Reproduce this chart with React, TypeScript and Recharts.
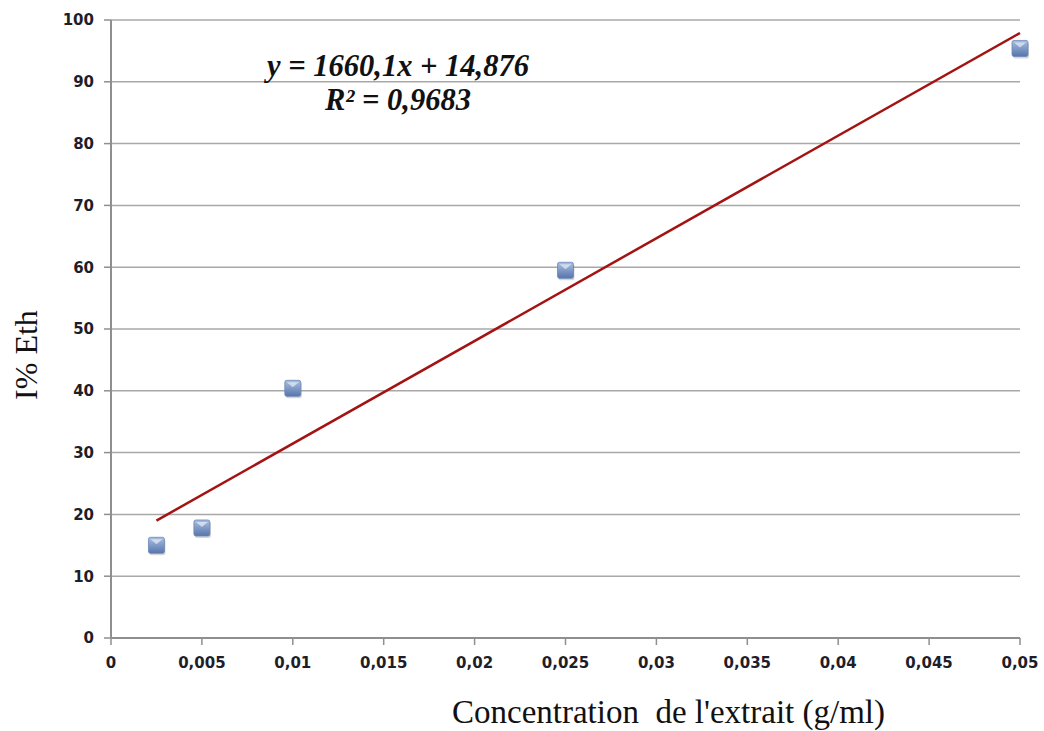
import { ScatterChart, Scatter, XAxis, YAxis, CartesianGrid, Label } from "recharts";

const concentrations = [0.0025, 0.005, 0.01, 0.025, 0.05];
const inhibition = [15.0, 17.8, 40.4, 59.5, 95.4];

// linear trend ends (y = 1660,1x + 14,876)
const trendX = [0.0025, 0.05];
const trendY = [19.0, 97.9];

const xTicks = [0, 0.005, 0.01, 0.015, 0.02, 0.025, 0.03, 0.035, 0.04, 0.045, 0.05];
const yTicks = [0, 10, 20, 30, 40, 50, 60, 70, 80, 90, 100];

const points = concentrations.map((x, i) => ({ x, y: inhibition[i] }));
const trend = trendX.map((x, i) => ({ x, y: trendY[i] }));

const tickStyle = { fontFamily: "DejaVu Sans", fontWeight: 700, fontSize: 15, fill: "#1e1e2a" };

function SquareMarker(props: any) {
  const { cx, cy } = props;
  if (cx == null || cy == null) return null;
  const s = 8;
  return (
    <g>
      <defs>
        <linearGradient id="mkGrad" x1="0" y1="0" x2="0" y2="1">
          <stop offset="0%" stopColor="#a9bfe2" />
          <stop offset="100%" stopColor="#5675ab" />
        </linearGradient>
      </defs>
      <rect x={cx - s + 1} y={cy - s + 2} width={2 * s} height={2 * s} rx={2} fill="#8a8a8a" opacity={0.35} />
      <rect x={cx - s} y={cy - s} width={2 * s} height={2 * s} rx={2} fill="url(#mkGrad)" stroke="#6a86b8" strokeWidth={0.8} />
      <polygon points={`${cx - 6},${cy - 6} ${cx + 6},${cy - 6} ${cx},${cy - 1}`} fill="#ffffff" opacity={0.55} />
    </g>
  );
}

export default function App() {
  return (
    <div style={{ position: "absolute", left: 0, top: 0, width: 1044, height: 731, background: "#fff" }}>
      <ScatterChart width={1044} height={731} margin={{ top: 20, right: 24, left: 0, bottom: 0 }}>
        <CartesianGrid vertical={false} stroke="#a8a8a8" strokeWidth={1.5} />
        <XAxis
          type="number"
          dataKey="x"
          domain={[0, 0.05]}
          ticks={xTicks}
          height={93}
          tickFormatter={(v: number) => String(v).replace(".", ",")}
          tick={tickStyle}
          tickSize={7}
          tickMargin={12}
          axisLine={{ stroke: "#8f8f8f", strokeWidth: 2 }}
          tickLine={{ stroke: "#8f8f8f", strokeWidth: 1.5 }}
          interval={0}
        >
          <Label
            content={({ viewBox }: any) => (
              <text
                x={viewBox.x + viewBox.width / 2 + 103}
                y={viewBox.y + 85}
                textAnchor="middle"
                style={{ fontFamily: "Liberation Serif", fontSize: 33, fill: "#111" }}
              >
                {"Concentration\u00a0 de l'extrait (g/ml)"}
              </text>
            )}
          />
        </XAxis>
        <YAxis
          type="number"
          dataKey="y"
          domain={[0, 100]}
          ticks={yTicks}
          width={111}
          tick={tickStyle}
          tickSize={7}
          tickMargin={10}
          axisLine={{ stroke: "#8f8f8f", strokeWidth: 2 }}
          tickLine={{ stroke: "#8f8f8f", strokeWidth: 1.5 }}
          interval={0}
        >
          <Label
            content={({ viewBox }: any) => {
              const x = 37;
              const y = viewBox.y + viewBox.height / 2 + 26;
              return (
                <text
                  x={x}
                  y={y}
                  transform={`rotate(-90 ${x} ${y})`}
                  textAnchor="middle"
                  style={{ fontFamily: "Liberation Serif", fontSize: 32, fill: "#111" }}
                >
                  I% Eth
                </text>
              );
            }}
          />
        </YAxis>
        <Scatter
          data={trend}
          line={{ stroke: "#a31313", strokeWidth: 2.5 }}
          lineType="joint"
          shape={() => <g />}
          isAnimationActive={false}
        />
        <Scatter data={points} shape={SquareMarker} isAnimationActive={false} />
      </ScatterChart>
      <div
        style={{
          position: "absolute",
          left: 230,
          top: 49,
          width: 336,
          textAlign: "center",
          fontFamily: "Liberation Serif",
          fontWeight: 700,
          fontStyle: "italic",
          fontSize: 30.5,
          lineHeight: "34px",
          color: "#111",
        }}
      >
        <div>y = 1660,1x + 14,876</div>
        <div>R² = 0,9683</div>
      </div>
    </div>
  );
}
